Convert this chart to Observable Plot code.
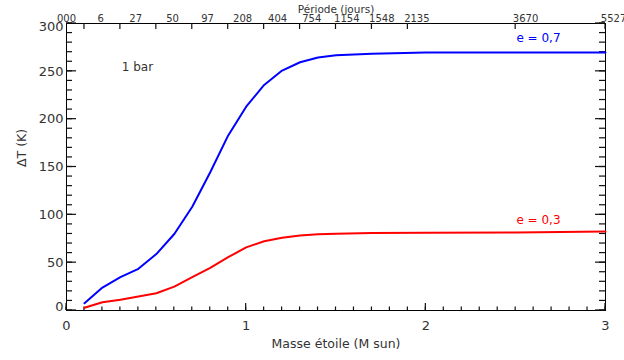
<!DOCTYPE html>
<html>
<head>
<meta charset="utf-8">
<script src="https://cdn.jsdelivr.net/npm/d3@7"></script>
<script src="https://cdn.jsdelivr.net/npm/@observablehq/plot@0.6"></script>
<style>
  body { margin: 0; background: #fff; }
  #chart svg { display: block; }
</style>
</head>
<body>
<div id="chart"></div>
<script>
// Stellar mass (M sun)
const mass = [0.1, 0.2, 0.3, 0.4, 0.5, 0.6, 0.7, 0.8, 0.9, 1.0, 1.1, 1.2, 1.3, 1.4, 1.5, 1.7, 2.0, 2.5, 3.0];
// ΔT (K) for e = 0.7 (blue) and e = 0.3 (red)
const dTe07 = [7.6, 24, 34.8, 43.6, 59, 80, 108.5, 144.5, 183, 213, 235.8, 250.8, 259.5, 264.5, 266.8, 268.5, 269.6, 269.6, 269.6];
const dTe03 = [2.8, 8.7, 11.2, 14.6, 18, 25, 34.8, 44.6, 55.7, 66, 72.4, 76, 78.4, 79.7, 80.1, 81, 81.4, 81.5, 82.5];

// Axis ticks
const yMajor = [0, 50, 100, 150, 200, 250, 300];
const yMinor = d3.range(0, 301, 10);
const xMajor = [0, 1, 2, 3];
const xMinor = d3.range(0, 31, 1).map(d => d / 10);

// Top (period) axis
const topTicks = [0.1, 0.3, 0.5, 0.7, 0.9, 1.1, 1.3, 1.5, 1.7, 1.9, 2.5, 3.0];
const topLabelPos = [0, 0.19, 0.385, 0.59, 0.785, 0.98, 1.175, 1.365, 1.56, 1.755, 1.95, 2.555, 3.045];
const topLabels = ["000", "6", "27", "50", "97", "208", "404", "754", "1154", "1548", "2135", "3670", "5527"];

// Annotations
const noteText = ["1 bar", "e = 0,7", "e = 0,3"];
const noteX = [0.395, 2.627, 2.627];
const noteY = [254, 285, 94];
const noteColor = ["#333", "#0000ff", "#ff0000"];

const series = [
  ...mass.map((m, i) => ({mass: m, dT: dTe07[i], e: "0.7"})),
  ...mass.map((m, i) => ({mass: m, dT: dTe03[i], e: "0.3"}))
];
const notes = noteText.map((t, i) => ({t, x: noteX[i], y: noteY[i], c: noteColor[i]}));

const W = 624, H = 360, ML = 66, MR = 19, MT = 23, MB = 50;
const xDom = [0, 3], yDom = [0, 300];
// pixel -> data unit conversion for tick sizes
const kx = (xDom[1] - xDom[0]) / (W - ML - MR);
const ky = (yDom[1] - yDom[0]) / (H - MT - MB);
const hw = 0.6; // half tick thickness in px

const font = "DejaVu Sans, sans-serif";
const txt = "#333";
const tf = {fill: "#111", inset: 0};

// tick helpers as thin filled rects (inward ticks)
const leftTicks = (vals, len) => Plot.rect(vals, {x1: xDom[0], x2: xDom[0] + len * kx, y1: d => d - hw * ky, y2: d => d + hw * ky, ...tf});
const rightTicks = (vals, len) => Plot.rect(vals, {x1: xDom[1] - len * kx, x2: xDom[1], y1: d => d - hw * ky, y2: d => d + hw * ky, ...tf});
const bottomTicks = (vals, len) => Plot.rect(vals, {x1: d => d - hw * kx, x2: d => d + hw * kx, y1: yDom[0], y2: yDom[0] + len * ky, ...tf});
const topTickMarks = (vals, len) => Plot.rect(vals, {x1: d => d - hw * kx, x2: d => d + hw * kx, y1: yDom[1] - len * ky, y2: yDom[1], ...tf});

const chart = Plot.plot({
  width: W,
  height: H,
  marginLeft: ML,
  marginRight: MR,
  marginTop: MT,
  marginBottom: MB,
  x: {domain: xDom},
  y: {domain: yDom},
  color: {domain: ["0.7", "0.3"], range: ["#0000ff", "#ff0000"]},
  style: {fontFamily: font, color: txt, background: "#fff", overflow: "visible"},
  marks: [
    Plot.frame({stroke: "#000", fill: "none"}),
    leftTicks(yMinor, 6),
    leftTicks(yMajor, 10),
    rightTicks(yMinor, 6),
    rightTicks(yMajor, 10),
    bottomTicks(xMinor, 3.5),
    bottomTicks(xMajor, 7),
    topTickMarks(topTicks, 6),
    // left axis labels
    Plot.axisY({anchor: "left", ticks: [50, 100, 150, 200, 250], tickSize: 0, tickPadding: 3, fontSize: 13, label: null}),
    Plot.axisY({anchor: "left", ticks: [0], tickSize: 0, tickPadding: 3, dy: -4, fontSize: 13, label: null}),
    Plot.axisY({anchor: "left", ticks: [300], tickSize: 0, tickPadding: 3, dy: 3, fontSize: 13, label: null}),
    // bottom axis labels
    Plot.axisX({anchor: "bottom", ticks: xMajor, tickFormat: "d", tickSize: 0, tickPadding: 10, fontSize: 13, label: null}),
    // top axis labels
    Plot.text(topLabelPos, {x: d => d, text: (d, i) => topLabels[i], frameAnchor: "top", dy: -9, fontSize: 10, fill: txt}),
    // axis titles
    Plot.text(["Période (jours)"], {frameAnchor: "top", dy: -18, fontSize: 10.5, fill: txt}),
    Plot.text(["Masse étoile (M sun)"], {frameAnchor: "bottom", dy: 37, fontSize: 12.5, fill: txt}),
    Plot.text(["ΔT (K)"], {frameAnchor: "left", dx: -45, rotate: -90, fontSize: 12.5, fill: txt}),
    // curves
    Plot.line(series, {x: "mass", y: "dT", z: "e", stroke: "e", strokeWidth: 2}),
    // annotations
    Plot.text(notes, {x: "x", y: "y", text: "t", fill: d => d.c, fontSize: 12})
  ]
});

document.getElementById("chart").appendChild(chart);
</script>
</body>
</html>
